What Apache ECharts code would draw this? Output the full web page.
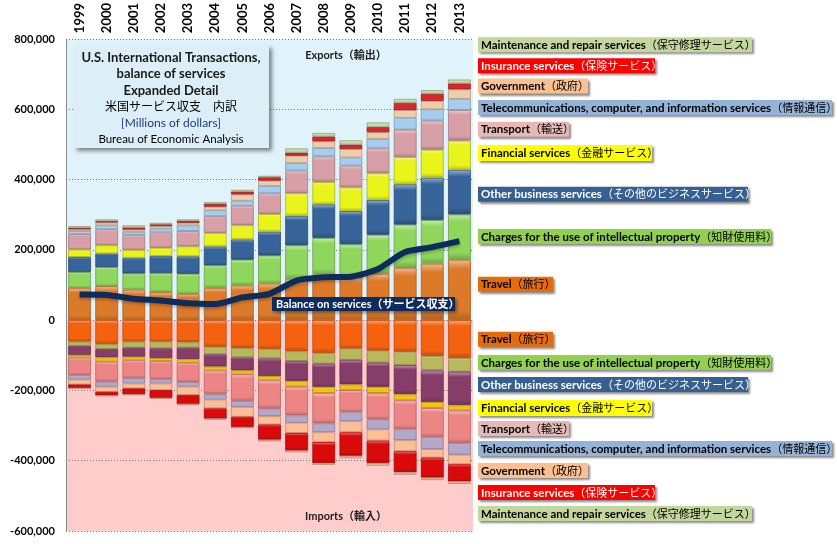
<!DOCTYPE html>
<html>
<head>
<meta charset="utf-8">
<script src="https://cdn.jsdelivr.net/npm/echarts@6/dist/echarts.min.js"></script>
<style>
html,body{margin:0;padding:0;background:#fff;}
#chart{width:837px;height:544px;}
</style>
</head>
<body>
<div id="chart"></div>
<script>
// ---- data (millions of dollars) ----
const years = ['1999','2000','2001','2002','2003','2004','2005','2006','2007','2008','2009','2010','2011','2012','2013'];

const exTravel = [92000, 97000, 87000, 80000, 75000, 92000, 99000, 104000, 118000, 130000, 123000, 132000, 149000, 161000, 172000];
const exIP     = [45000, 54000, 46000, 54000, 57000, 64000, 73000, 80000, 95000, 104000, 93000, 111000, 123000, 124000, 129000];
const exOBS    = [43000, 39000, 45000, 49000, 50000, 54000, 58000, 68000, 84000, 96000, 95000, 99000, 115000, 121000, 127000];
const exFin    = [21000, 23000, 22000, 23000, 28000, 38000, 40000, 50000, 64000, 63000, 67000, 76000, 77000, 79000, 83000];
const exTrans  = [44000, 46000, 43000, 44000, 44000, 48000, 56000, 59000, 65000, 73000, 62000, 71000, 78000, 83000, 87000];
const exTele   = [9000, 11000, 9000, 11000, 16000, 17000, 14000, 21000, 21000, 24000, 23000, 27000, 34000, 32000, 32000];
const exGov    = [5000, 8000, 6000, 7000, 7000, 10000, 18000, 15000, 21000, 19000, 24000, 19000, 22000, 24000, 27000];
const exIns    = [4000, 4000, 6000, 5000, 6000, 8000, 8000, 10000, 9000, 14000, 13000, 15000, 21000, 21000, 17000];
const exMaint  = [5000, 5000, 6000, 4000, 4000, 5000, 5000, 4000, 12000, 10000, 12000, 13000, 11000, 10000, 11000];

const imTravel = [-61000, -68000, -61000, -61000, -63000, -76000, -80000, -82000, -89000, -94000, -81000, -87000, -90000, -102000, -108000];
const imIP     = [-12000, -14000, -17000, -19000, -15000, -21000, -26000, -27000, -27000, -30000, -32000, -34000, -38000, -41000, -39000];
const imOBS    = [-26000, -24000, -26000, -28000, -33000, -35000, -37000, -50000, -57000, -66000, -70000, -69000, -83000, -90000, -95000];
const imFin    = [-7000, -12000, -10000, -8000, -10000, -11000, -11000, -12000, -16000, -17000, -16000, -17000, -17000, -17000, -15000];
const imTrans  = [-50000, -57000, -51000, -52000, -55000, -68000, -76000, -81000, -82000, -87000, -62000, -76000, -83000, -83000, -93000];
const imTele   = [-13000, -14000, -15000, -12000, -13000, -15000, -17000, -21000, -21000, -25000, -27000, -28000, -31000, -34000, -33000];
const imGov    = [-14000, -15000, -14000, -19000, -24000, -25000, -28000, -24000, -29000, -28000, -31000, -32000, -31000, -24000, -27000];
const imIns    = [-10000, -10000, -17000, -22000, -25000, -29000, -29000, -43000, -50000, -60000, -67000, -64000, -60000, -57000, -49000];
const imMaint  = [-2000, -2000, -2000, -3000, -4000, -3000, -3000, -5000, -5000, -5000, -7000, -7000, -7000, -7000, -7000];

const balance  = [73000, 72000, 61000, 56000, 48000, 46000, 65000, 75000, 113000, 122000, 124000, 146000, 194000, 208000, 225000];

const yMin = -600000, yMax = 800000, yStep = 200000;

const catNames = [
  ['Travel','（旅行）'],
  ['Charges for the use of intellectual property','（知財使用料）'],
  ['Other business services','（その他のビジネスサービス）'],
  ['Financial services','（金融サービス）'],
  ['Transport','（輸送）'],
  ['Telecommunications, computer, and information services','（情報通信）'],
  ['Government','（政府）'],
  ['Insurance services','（保険サービス）'],
  ['Maintenance and repair services','（保守修理サービス）']
];

// ---- styles ----
const FONT = "Lato, 'Noto Sans CJK JP', sans-serif";
const exColors = ['#DD7A2A','#8FD65C','#37649A','#E8F41A','#D8A0A6','#A6CDEE','#ECCFAA','#D6262E','#C5DCA8'];
const imColors = ['#F4620F','#B8B85C','#873D6A','#F2C40C','#EE8585','#B3A8CA','#FCBE96','#DB0A0A','#E6BEA0'];
const legendColors = ['#E46C0A','#92D050','#376092','#FFFF00','#E6B9B8','#95B3D7','#FAC090','#FF0000','#C3D69B'];
const legendText = ['#000','#000','#fff','#000','#000','#000','#000','#fff','#000'];

function mix(hex, target, t){
  const h = hex.replace('#','');
  const r = parseInt(h.substr(0,2),16), g = parseInt(h.substr(2,2),16), b = parseInt(h.substr(4,2),16);
  const tr = target ? 255 : 0;
  const f = v => Math.round(v + (tr - v) * t);
  return 'rgb(' + f(r) + ',' + f(g) + ',' + f(b) + ')';
}
function bevel(c){
  return new echarts.graphic.LinearGradient(0,0,0,1,[
    {offset:0, color: mix(c,true,0.5)},
    {offset:0.15, color: c},
    {offset:0.85, color: c},
    {offset:1, color: mix(c,false,0.22)}
  ]);
}

const exData = [exTravel, exIP, exOBS, exFin, exTrans, exTele, exGov, exIns, exMaint];
const imData = [imTravel, imIP, imOBS, imFin, imTrans, imTele, imGov, imIns, imMaint];

const series = [];
exData.forEach((d,i) => {
  series.push({
    name: 'ex' + i, type:'bar', stack:'all', data:d, barWidth:'84%',
    itemStyle:{color: bevel(exColors[i]), borderColor: mix(exColors[i],false,0.25), borderWidth:0.8},
    emphasis:{disabled:true}, z:2
  });
});
imData.forEach((d,i) => {
  series.push({
    name: 'im' + i, type:'bar', stack:'all', data:d, barWidth:'84%',
    itemStyle:{color: bevel(imColors[i]), borderColor: mix(imColors[i],false,0.25), borderWidth:0.8},
    emphasis:{disabled:true}, z:2
  });
});
series.push({
  name:'balance', type:'line', data: balance, smooth:0.25, symbol:'none', z:5,
  lineStyle:{color:'#0D2C5E', width:6, shadowColor:'rgba(0,0,0,0.25)', shadowBlur:3, shadowOffsetY:2}
});

const zeroFrac = (yMax - 0) / (yMax - yMin);

// ---- graphics: title box, legend boxes, labels ----
const graphics = [];
graphics.push({
  type:'rect', left:74, top:45, z:10,
  shape:{width:195, height:103},
  style:{fill:'#DCEFF8', shadowColor:'rgba(0,0,0,0.45)', shadowBlur:4, shadowOffsetX:3, shadowOffsetY:3}
});
const titleLines = [
  {t:'U.S. International Transactions,', y:58, w:'bold', s:13, c:'#1a1a1a'},
  {t:'balance of services', y:74, w:'bold', s:13, c:'#1a1a1a'},
  {t:'Expanded Detail', y:91, w:'bold', s:13, c:'#1a1a1a'},
  {t:'米国サービス収支　内訳', y:107, w:'normal', s:12, c:'#000'},
  {t:'[Millions of dollars]', y:123, w:'normal', s:12, c:'#1F3D7A'},
  {t:'Bureau of Economic Analysis', y:139, w:'normal', s:11.5, c:'#000'}
];
titleLines.forEach(l => graphics.push({
  type:'text', x:171, y:l.y, z:11,
  style:{text:l.t, font: l.w + ' ' + l.s + 'px ' + FONT, fill:l.c, align:'center', verticalAlign:'middle'}
}));

graphics.push({type:'text', x:346, y:55, z:11, style:{text:'Exports（輸出）', font:'bold 11px '+FONT, fill:'#222', align:'center', verticalAlign:'middle'}});
graphics.push({type:'text', x:346, y:516, z:11, style:{text:'Imports（輸入）', font:'bold 11px '+FONT, fill:'#222', align:'center', verticalAlign:'middle'}});

// balance label
graphics.push({type:'rect', left:272, top:297, z:10, shape:{width:183, height:14},
  style:{fill:'#0D2C5E', shadowColor:'rgba(0,0,0,0.4)', shadowBlur:3, shadowOffsetX:2, shadowOffsetY:2}});
graphics.push({type:'text', x:276, y:304, z:11, style:{text:'Balance on services（サービス収支）', font:'bold 11px '+FONT, fill:'#fff', align:'left', verticalAlign:'middle'}});

// legend boxes (exports order top->bottom: maint..travel; imports: travel..maint)
const exLegendTops = [276.7, 229, 186.7, 145, 121.7, 100, 78.5, 58.3, 37.3];
const imLegendTops = [331.7, 355, 377, 400, 421, 441, 463, 485, 506];
const legendW = [75, 293, 270, 174, 91, 354, 110, 177, 274];
function legendBox(i, top){
  const h = (i === 3) ? 16 : 15;
  graphics.push({type:'rect', left:478, top:top, z:10, shape:{width:legendW[i], height:h},
    style:{fill:legendColors[i], shadowColor:'rgba(0,0,0,0.45)', shadowBlur:2, shadowOffsetX:2, shadowOffsetY:2}});
  graphics.push({type:'text', x:481, y:top + h/2 + 0.5, z:11,
    style:{text:'{a|' + catNames[i][0] + '}{b|' + catNames[i][1] + '}',
      rich:{a:{font:'bold 11.5px '+FONT, fill:legendText[i]}, b:{font:'11px '+FONT, fill:legendText[i]}},
      fill: legendText[i], align:'left', verticalAlign:'middle'}});
}
for (let i = 0; i < 9; i++) legendBox(i, exLegendTops[i]);
for (let i = 0; i < 9; i++) legendBox(i, imLegendTops[i]);

const chart = echarts.init(document.getElementById('chart'), null, {renderer:'canvas'});
chart.setOption({
  animation:false,
  backgroundColor:'#fff',
  grid:{left:66, right:364, top:39, bottom:13, show:true, borderWidth:0,
    backgroundColor: new echarts.graphic.LinearGradient(0,0,0,1,[
      {offset:0, color:'#E0F3FA'},{offset:zeroFrac, color:'#E0F3FA'},
      {offset:zeroFrac, color:'#FFCCCC'},{offset:1, color:'#FFCCCC'}])},
  xAxis:{type:'category', data:years, position:'top',
    axisLine:{show:false}, axisTick:{show:false},
    axisLabel:{rotate:90, margin:6, fontFamily:FONT, fontWeight:'bold', fontSize:13, color:'#000', interval:0}},
  yAxis:{type:'value', min:yMin, max:yMax, interval:yStep,
    axisLine:{show:true, lineStyle:{color:'#8a8a8a', width:1}},
    axisTick:{show:false},
    splitLine:{show:true, lineStyle:{color:'#777', type:[1,2], width:1}},
    axisLabel:{margin:11, fontFamily:FONT, fontWeight:'bold', fontSize:11, color:'#000',
      formatter: v => v.toLocaleString('en-US')}},
  series: series,
  graphic: graphics
});
</script>
</body>
</html>
